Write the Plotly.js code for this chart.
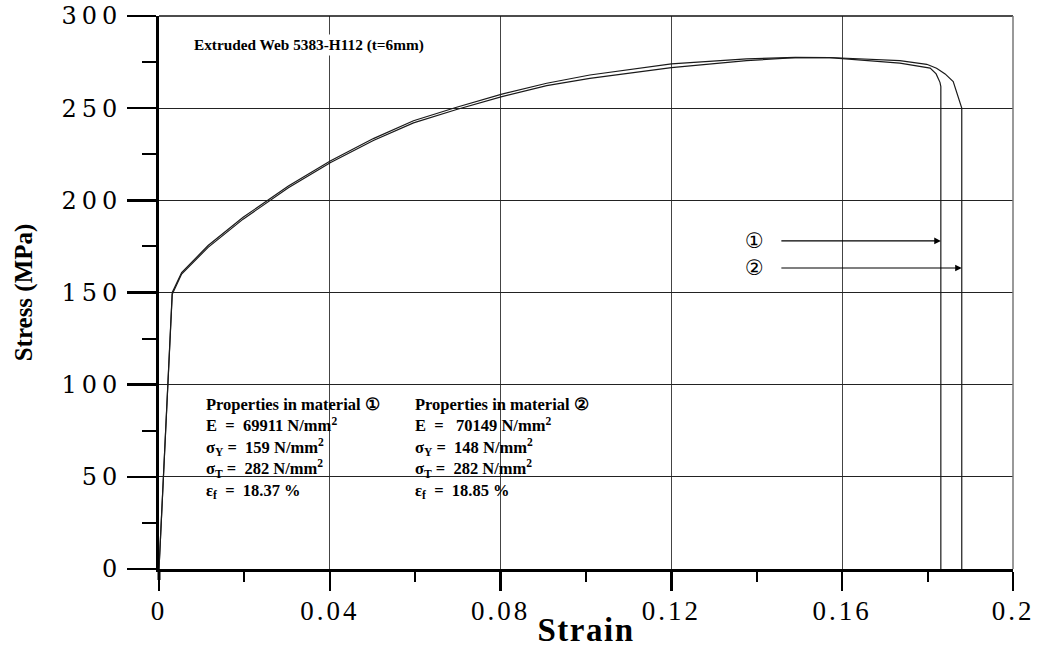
<!DOCTYPE html>
<html>
<head>
<meta charset="utf-8">
<script src="https://cdn.plot.ly/plotly-3.0.1.min.js"></script>
<style>
  html, body { margin: 0; padding: 0; background: #fff; }
  #chart { width: 1042px; height: 648px; }
  .ytick text { letter-spacing: 5px; }
  .xtick text { letter-spacing: 3px; }
  .g-xtitle text { letter-spacing: 1.5px; }
</style>
</head>
<body>
<div id="chart"></div>
<script>
// ---- Data ----
const strain1 = [0, 0.0031, 0.0053, 0.0115, 0.0197, 0.026, 0.0303, 0.0402, 0.0502, 0.0596, 0.0697, 0.0803, 0.0908, 0.1009, 0.12, 0.1376, 0.149, 0.157, 0.1735, 0.1806, 0.182, 0.1829, 0.1831, 0.1831];
const stress1 = [0, 150, 160.8, 175.5, 190.8, 200.7, 207.8, 221.5, 233.5, 243.2, 250.5, 257.6, 263.5, 268, 274, 276.7, 277.6, 277.4, 274.4, 271.7, 268.6, 264, 261.7, 0];

const strain2 = [0, 0.0031, 0.0053, 0.0115, 0.0197, 0.026, 0.0303, 0.0402, 0.0502, 0.0596, 0.0697, 0.0803, 0.0908, 0.1009, 0.12, 0.1376, 0.149, 0.157, 0.1735, 0.1798, 0.1821, 0.1841, 0.186, 0.188, 0.188];
const stress2 = [0, 149, 160, 174.5, 189.8, 199.7, 206.8, 220.5, 232.5, 242.0, 249.3, 256.3, 262.2, 266.2, 272, 275.8, 277.4, 277.5, 275.8, 273.8, 271.7, 268.6, 264.4, 250, 0];

const xTickVals = [0, 0.04, 0.08, 0.12, 0.16, 0.2];
const xTickLabels = ["0", "0.04", "0.08", "0.12", "0.16", "0.2"];
const yTickVals = [0, 50, 100, 150, 200, 250, 300];
const yTickLabels = ["0", "50", "100", "150", "200", "250", "300"];

const chartTitle = "Extruded Web 5383-H112 (t=6mm)";
const materialMarks = ["\u2460", "\u2461"];
const modulusE = ["69911", " 70149"];
const sigmaY = ["159", "148"];
const sigmaT = ["282", "282"];
const epsF = ["18.37", "18.85"];
const fractureStrain = [0.1831, 0.188];
const arrowStress = [178, 163.3];

// ---- Styling ----
const serif = "Liberation Serif, Times New Roman, serif";
const lineStyle = {color: "#1a1a1a", width: 1.2};

const traces = [
  {x: strain1, y: stress1, type: "scatter", mode: "lines", line: lineStyle, name: "Material 1", showlegend: false, hoverinfo: "x+y"},
  {x: strain2, y: stress2, type: "scatter", mode: "lines", line: lineStyle, name: "Material 2", showlegend: false, hoverinfo: "x+y"}
];

const annotations = [];
// chart title (inside plot)
annotations.push({
  xref: "x", yref: "y", x: 0.0077, y: 284, xanchor: "left", yanchor: "middle",
  text: "<b>" + chartTitle + "</b>", showarrow: false, bgcolor: "#ffffff",
  font: {family: serif, size: 15.3, color: "#000"}
});

// property table: one block per material
const colX = [0.0105, 0.0594];
for (let i = 0; i < 2; i++) {
  const rows = [
    "Properties in material " + materialMarks[i],
    "E  =  " + modulusE[i] + " N/mm<sup>2</sup>",
    "\u03c3<sub>Y</sub> =  " + sigmaY[i] + " N/mm<sup>2</sup>",
    "\u03c3<sub>T</sub> =  " + sigmaT[i] + " N/mm<sup>2</sup>",
    "\u03b5<sub>f</sub>  =  " + epsF[i] + " %"
  ];
  annotations.push({
    xref: "x", yref: "y", x: colX[i], y: 95.5, xanchor: "left", yanchor: "top", align: "left",
    text: rows.map(r => "<b>" + r + "</b>").join("<br>"), showarrow: false,
    font: {family: serif, size: 16.5, color: "#000"}
  });
}

// arrows pointing to fracture strains
for (let i = 0; i < 2; i++) {
  annotations.push({
    xref: "x", yref: "y", x: 0.1395, y: arrowStress[i], xanchor: "center", yanchor: "middle",
    text: materialMarks[i], showarrow: false,
    font: {family: "DejaVu Sans, Noto Sans CJK JP, sans-serif", size: 21, color: "#000"}
  });
  annotations.push({
    xref: "x", yref: "y", axref: "x", ayref: "y",
    x: fractureStrain[i], y: arrowStress[i], ax: 0.1454, ay: arrowStress[i],
    text: "", showarrow: true, arrowhead: 2, arrowsize: 1.1, arrowwidth: 1.2, arrowcolor: "#000",
    standoff: 0
  });
}

const shapes = [
  // white box behind the properties text
  {type: "rect", xref: "x", yref: "y", x0: 0.0073, x1: 0.1073, y0: 36.4, y1: 94.5,
   fillcolor: "#ffffff", line: {width: 0}, layer: "below"},
  // top frame line
  {type: "line", xref: "paper", yref: "paper", x0: 0, x1: 1, y0: 1, y1: 1, line: {color: "#111", width: 1.5}},
  // right frame line
  {type: "line", xref: "paper", yref: "paper", x0: 1, x1: 1, y0: 0, y1: 1, line: {color: "#777", width: 1.5}},
  // y-axis extension below the origin
  {type: "line", xref: "paper", yref: "paper", x0: 0, x1: 0, y0: 0, y1: -0.02, line: {color: "#000", width: 3}}
];

const layout = {
  width: 1042, height: 648,
  margin: {l: 159, r: 29, t: 16, b: 79},
  paper_bgcolor: "#ffffff", plot_bgcolor: "#ffffff",
  showlegend: false,
  xaxis: {
    range: [0, 0.2], tickvals: xTickVals, ticktext: xTickLabels,
    showgrid: true, gridcolor: "#444", gridwidth: 1,
    zeroline: false, showline: true, linecolor: "#000", linewidth: 3,
    ticks: "outside", ticklen: 19, tickwidth: 2.5, tickcolor: "#000",
    ticklabelstandoff: -3,
    minor: {dtick: 0.02, tick0: 0, ticks: "outside", ticklen: 10, tickwidth: 2, tickcolor: "#000", showgrid: false},
    tickfont: {family: serif, size: 27, color: "#000"},
    title: {text: "<b>Strain</b>", font: {family: serif, size: 33, color: "#000"}, standoff: 1}
  },
  yaxis: {
    range: [0, 300], tickvals: yTickVals, ticktext: yTickLabels,
    showgrid: true, gridcolor: "#222", gridwidth: 1,
    zeroline: false, showline: true, linecolor: "#000", linewidth: 3,
    ticks: "outside", ticklen: 29, tickwidth: 2.5, tickcolor: "#000",
    ticklabelstandoff: 0,
    minor: {dtick: 25, tick0: 0, ticks: "outside", ticklen: 14, tickwidth: 2, tickcolor: "#000", showgrid: false},
    tickfont: {family: "DejaVu Serif, serif", size: 24, color: "#000"},
    title: {text: "<b>Stress (MPa)</b>", font: {family: serif, size: 25, color: "#000"}, standoff: 22}
  },
  annotations: annotations,
  shapes: shapes
};

Plotly.newPlot("chart", traces, layout, {displayModeBar: false, staticPlot: true});
</script>
</body>
</html>
